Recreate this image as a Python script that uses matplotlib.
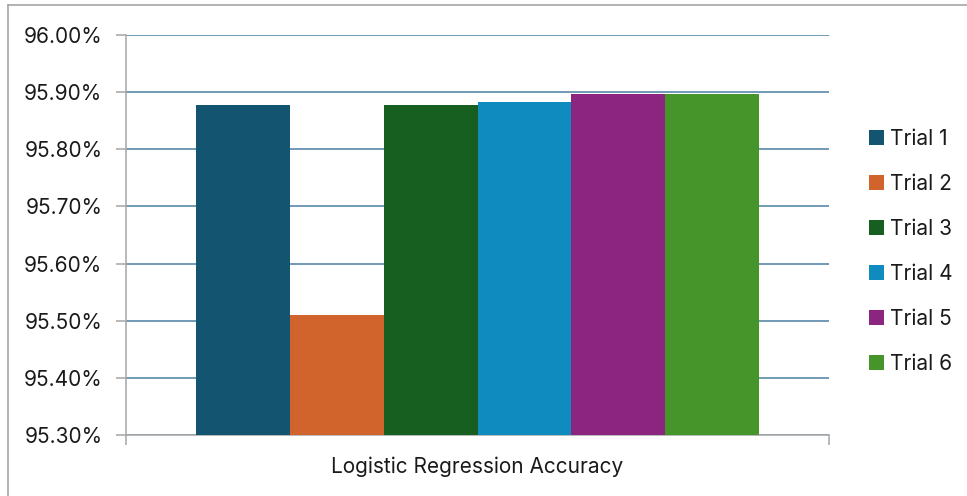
import matplotlib.pyplot as plt
import numpy as np
from matplotlib.ticker import FuncFormatter
from matplotlib.patches import Patch

plt.rcParams['font.family'] = ['Inter', 'DejaVu Sans']

trials = ['Trial 1', 'Trial 2', 'Trial 3', 'Trial 4', 'Trial 5', 'Trial 6']
accuracy = [95.878, 95.510, 95.877, 95.882, 95.896, 95.896]  # percent
colors = ['#135471', '#d0642c', '#175e21', '#0f8bbf', '#8b2580', '#46952b']
category = 'Logistic Regression Accuracy'

fig = plt.figure(figsize=(9.67, 4.96), dpi=100)
ax = fig.add_axes([126/967, 61/496, 703/967, 400/496])

# six bars side by side inside the one category
width = 0.8 / len(trials)
x0 = 0.1 + width / 2
for i, (t, a, c) in enumerate(zip(trials, accuracy, colors)):
    ax.bar(x0 + i * width, a - 95.3, bottom=95.3, width=width, color=c, zorder=3)

ax.set_xlim(0, 1)
ax.set_ylim(95.3, 96.0)
ax.set_yticks(np.arange(95.3, 96.001, 0.1))
ax.yaxis.set_major_formatter(FuncFormatter(lambda v, p: f'{v:.2f}%'))
ax.yaxis.grid(True, color='#4a7fa2', linewidth=1.1, zorder=0)
ax.set_xticks([0, 1])
ax.set_xticklabels(['', ''])
ax.tick_params(axis='y', direction='out', length=7, width=1.1, color='#a6a6a6',
               labelsize=15, pad=10, labelcolor='#1a1a1a')
ax.tick_params(axis='x', direction='out', length=7, width=1.1, color='#a6a6a6')

for s in ['top', 'right']:
    ax.spines[s].set_visible(False)
for s in ['left', 'bottom']:
    ax.spines[s].set_color('#a6a6a6')
    ax.spines[s].set_linewidth(1.1)

ax.set_xlabel(category, fontsize=15, color='#1a1a1a', labelpad=5)

handles = [Patch(facecolor=c, label=t) for t, c in zip(trials, colors)]
fig.legend(handles=handles, loc='upper left', bbox_to_anchor=(869/967, 1 - 129/496),
           frameon=False, fontsize=15, handlelength=0.7, handleheight=0.7,
           handletextpad=0.3, labelspacing=1.2, borderpad=0, labelcolor='#1a1a1a',
           borderaxespad=0)

# chart frame edges
fig.add_artist(plt.Line2D([8/967, 1], [1 - 5/496, 1 - 5/496], color='#a6a6a6', lw=1.2))
fig.add_artist(plt.Line2D([8/967, 8/967], [0, 1 - 5/496], color='#a6a6a6', lw=1.2))

fig.savefig('out.png', dpi=100)
